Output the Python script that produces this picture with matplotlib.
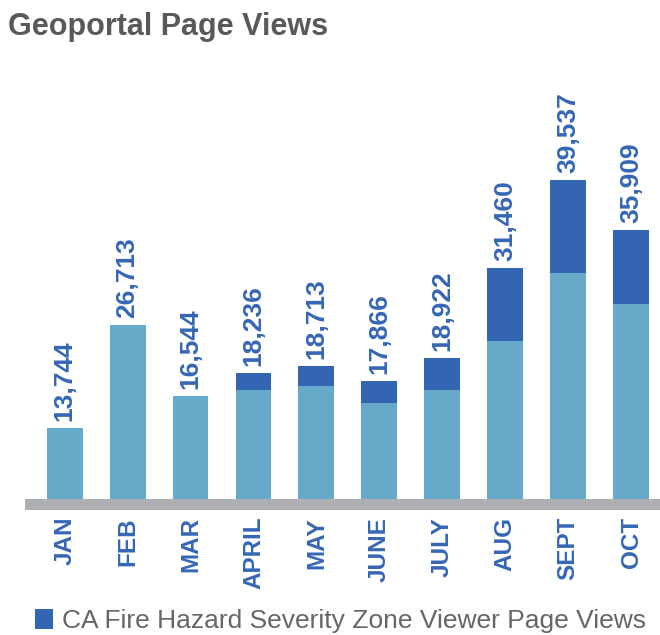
import matplotlib

matplotlib.use('Agg')
import matplotlib.pyplot as plt
import numpy as np

plt.rcParams['font.family'] = ['Liberation Sans', 'DejaVu Sans']

# --- DATA (bar heights, thousands of views) ---
months = ['JAN', 'FEB', 'MAR', 'APRIL', 'MAY', 'JUNE', 'JULY', 'AUG', 'SEPT', 'OCT']
base_views = [8.8, 21.6, 12.8, 13.5, 14.0, 11.9, 13.5, 19.6, 28.0, 24.2]
viewer_views = [0, 0, 0, 2.1, 2.5, 2.7, 4.0, 9.1, 11.5, 9.1]
total_labels = ['13,744', '26,713', '16,544', '18,236', '18,713',
                '17,866', '18,922', '31,460', '39,537', '35,909']

# --- THEME ---
C_LIGHT = '#66A9C9'
C_DARK = '#3465B2'
C_LABEL = '#3566B5'
C_GREY = '#ADAFB2'
C_TITLE = '#595959'
C_LEGEND = '#666666'

W, H = 660, 635
fig = plt.figure(figsize=(W / 100, H / 100), dpi=100)

# axes placed in pixel terms: x 25..660, y 60..510
ax = fig.add_axes([25 / W, 1 - 510 / H, 635 / W, 450 / H])

x = np.arange(len(months))
base = np.array(base_views)
top = np.array(viewer_views)

ax.bar(x, base, width=0.57, color=C_LIGHT, zorder=2)
dark = ax.bar(x, top, bottom=base, width=0.57, color=C_DARK, zorder=2,
              label='CA Fire Hazard Severity Zone Viewer Page Views')

ax.set_xlim(-0.63, 9.46)
ax.set_ylim(-1.364, 54.44)
ax.axhspan(-1.364, 0, color=C_GREY, zorder=3, lw=0)

for xi, tot, lab in zip(x, base + top, total_labels):
    ax.annotate(lab, (xi, tot), xytext=(0, 7), textcoords='offset pixels',
                rotation=90, ha='center', va='bottom', fontsize=19,
                fontweight='bold', color=C_LABEL)

ax.set_xticks(x)
ax.set_xticklabels(months, rotation=90, fontsize=17.5, fontweight='bold',
                   color=C_LABEL, va='top')
ax.tick_params(axis='x', length=0, pad=5)
ax.set_yticks([])
for s in ax.spines.values():
    s.set_visible(False)

fig.text(8 / W, 1 - 35 / H, 'Geoportal Page Views', fontsize=22,
         fontweight='bold', color=C_TITLE, ha='left', va='baseline')

fig.legend(handles=[dark], loc='lower left', bbox_to_anchor=(24 / W, -9 / H),
           frameon=False, fontsize=19, handlelength=0.7, handleheight=0.8,
           handletextpad=0.35, labelcolor=C_LEGEND, borderaxespad=0)

fig.savefig('out.png', dpi=100)
